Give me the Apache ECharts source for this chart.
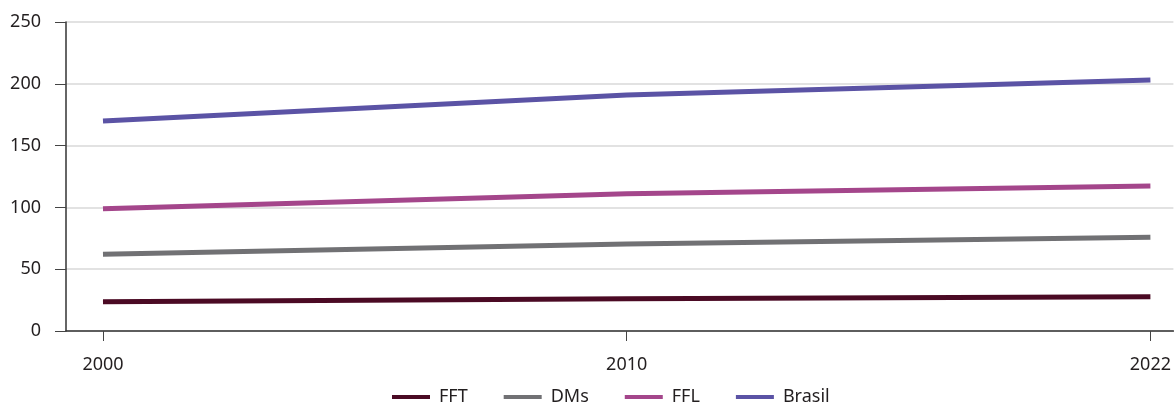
<!DOCTYPE html>
<html><head><meta charset="utf-8">
<script src="https://cdn.jsdelivr.net/npm/echarts@6/dist/echarts.min.js"></script>
<style>html,body{margin:0;padding:0;background:#fff}#c{width:1174px;height:407px}</style>
</head><body><div id="c"></div>
<script>
const categories = ['2000', '2010', '2022'];
const seriesNames = ['FFT', 'DMs', 'FFL', 'Brasil'];
const FFT = [23.7, 26.0, 27.8];
const DMs = [62.0, 70.3, 75.8];
const FFL = [99.0, 111.0, 117.3];
const Brasil = [170.0, 191.0, 203.0];
const yTicks = [0, 50, 100, 150, 200, 250];
const colors = ['#4b0a24', '#717174', '#a4468b', '#5b53a5'];

const values = [FFT, DMs, FFL, Brasil];
const idx = categories.map((c, i) => i);
const font = 'Noto Sans';
const txt = '#231f20';
const chart = echarts.init(document.getElementById('c'));
chart.setOption({
  animation: false,
  color: colors,
  grid: { left: 66, right: 0, top: 22, bottom: 76 },
  legend: {
    top: 388, left: 392, itemWidth: 38, itemHeight: 4, itemGap: 36, padding: 0,
    icon: 'rect',
    textStyle: { fontFamily: font, fontSize: 18, color: txt, padding: [0, 0, 0, 4] },
    data: seriesNames
  },
  xAxis: {
    type: 'value', min: -0.0706, max: 2.0439,
    axisLine: { show: true, onZero: false, lineStyle: { color: '#333', width: 1.5 } },
    axisTick: { show: true, length: 10, lineStyle: { color: '#444' }, customValues: idx },
    axisLabel: { customValues: idx, formatter: v => categories[Math.round(v)], margin: 25, fontFamily: font, fontSize: 18, color: txt },
    splitLine: { show: false }
  },
  yAxis: {
    type: 'value', min: 0, max: 250, interval: 50,
    axisLine: { show: true, onZero: false, lineStyle: { color: '#333', width: 1.5 } },
    axisTick: { show: true, inside: false, length: 11, lineStyle: { color: '#444' } },
    axisLabel: { margin: 25, fontFamily: font, fontSize: 18, color: txt },
    splitLine: { show: true, lineStyle: { color: '#d9d9d9', width: 1.5 } }
  },
  series: seriesNames.map((n, s) => ({
    name: n, type: 'line', symbol: 'none',
    lineStyle: { width: 5, color: colors[s] },
    data: values[s].map((v, i) => [idx[i], v])
  }))
});
</script></body></html>
